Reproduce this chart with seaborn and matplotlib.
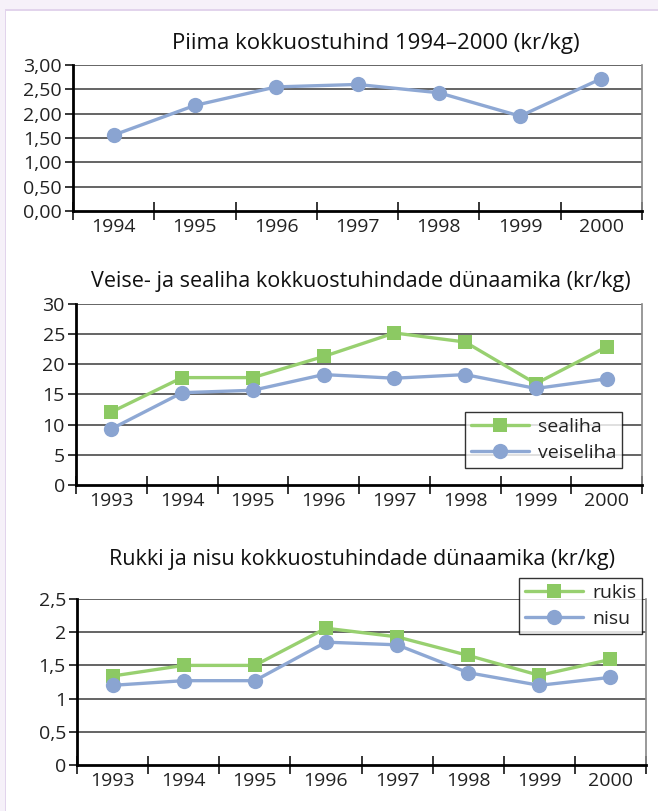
import matplotlib
matplotlib.use("Agg")
import matplotlib.pyplot as plt
import seaborn as sns
import pandas as pd
from matplotlib.patches import Rectangle
from matplotlib.ticker import FixedLocator, NullFormatter

# ---------------- data ----------------
milk_years = ["1994", "1995", "1996", "1997", "1998", "1999", "2000"]
milk_price = [1.56, 2.17, 2.55, 2.60, 2.43, 1.95, 2.72]

meat_years = ["1993", "1994", "1995", "1996", "1997", "1998", "1999", "2000"]
pork = [12.1, 17.8, 17.8, 21.3, 25.2, 23.7, 16.8, 22.9]
beef = [9.3, 15.3, 15.7, 18.3, 17.7, 18.3, 16.0, 17.6]

grain_years = ["1993", "1994", "1995", "1996", "1997", "1998", "1999", "2000"]
rye = [1.34, 1.50, 1.50, 2.06, 1.93, 1.65, 1.35, 1.59]
wheat = [1.20, 1.27, 1.27, 1.85, 1.81, 1.39, 1.20, 1.32]

titles = ["Piima kokkuostuhind 1994–2000 (kr/kg)",
          "Veise- ja sealiha kokkuostuhindade dünaamika (kr/kg)",
          "Rukki ja nisu kokkuostuhindade dünaamika (kr/kg)"]
milk_ticks = [0, 0.5, 1, 1.5, 2, 2.5, 3]
milk_ticklabels = ["0,00", "0,50", "1,00", "1,50", "2,00", "2,50", "3,00"]
meat_ticks = [0, 5, 10, 15, 20, 25, 30]
meat_ticklabels = ["0", "5", "10", "15", "20", "25", "30"]
grain_ticks = [0, 0.5, 1, 1.5, 2, 2.5]
grain_ticklabels = ["0", "0,5", "1", "1,5", "2", "2,5"]

GREEN = "#8cc963"
GREEN_LINE = "#98d070"
BLUE = "#8aa4d1"
BLUE_LINE = "#8ea8d4"

TITLE_FS = 15.5
TICK_FS = 14
LEG_FS = 14

sns.set_theme(style="white")
plt.rcParams["font.family"] = ["Open Sans", "DejaVu Sans"]

W, H = 658, 811
fig = plt.figure(figsize=(W / 100, H / 100), dpi=100)
fig.patch.set_facecolor("white")

# lavender page border
fig.add_artist(Rectangle((0, 0), 5 / W, 1, transform=fig.transFigure,
                         facecolor="#f6f1f9", edgecolor="none", zorder=0))
fig.add_artist(Rectangle((0, 1 - 9 / H), 1, 9 / H, transform=fig.transFigure,
                         facecolor="#f6f1f9", edgecolor="none", zorder=0))
fig.add_artist(Rectangle((4.5 / W, 0), 1.8 / W, 1 - 9 / H, transform=fig.transFigure,
                         facecolor="#e2d4ec", edgecolor="none", zorder=1))
fig.add_artist(Rectangle((4.5 / W, 1 - 11 / H), 1 - 4.5 / W, 2 / H, transform=fig.transFigure,
                         facecolor="#e2d4ec", edgecolor="none", zorder=1))


def make_ax(left, right, top, bottom):
    return fig.add_axes([left / W, 1 - bottom / H, (right - left) / W, (bottom - top) / H])


def style_ax(ax, cats, ticks, ticklabels, ymax):
    n = len(cats)
    ax.set_xlim(-0.5, n - 0.5)
    ax.set_ylim(0, ymax)
    ax.set_facecolor("none")
    ax.set_yticks(ticks)
    ax.set_yticklabels(ticklabels)
    for y in ticks[1:]:
        ax.axhline(y, color="#3a3a3a", lw=1.1, zorder=1)
    ax.xaxis.set_major_locator(FixedLocator([i - 0.5 for i in range(n + 1)]))
    ax.xaxis.set_major_formatter(NullFormatter())
    ax.xaxis.set_minor_locator(FixedLocator(list(range(n))))
    ax.set_xticklabels(cats, minor=True)
    ax.tick_params(axis="x", which="major", direction="inout", length=13, width=1.1,
                   color="black", bottom=True)
    ax.tick_params(axis="x", which="minor", length=0, pad=5, labelsize=TICK_FS,
                   labelcolor="#222222", bottom=True)
    ax.tick_params(axis="y", which="major", direction="out", length=6, width=1.1,
                   color="black", left=True, pad=2, labelsize=TICK_FS, labelcolor="#222222")
    for s in ["left", "bottom"]:
        ax.spines[s].set_color("black")
        ax.spines[s].set_linewidth(2)
        ax.spines[s].set_zorder(5)
    ax.spines["right"].set_color("#888888")
    ax.spines["right"].set_linewidth(1.2)
    ax.spines["top"].set_visible(False)
    ax.set_xlabel("")
    ax.set_ylabel("")
    ax.grid(False)


def draw_series(ax, cats, vals, name, color, lcolor, marker, ms):
    df = pd.DataFrame({"x": cats, "y": vals, "s": name})
    sns.lineplot(data=df, x="x", y="y", ax=ax, color=lcolor, lw=2.4, marker=marker,
                 markersize=ms, markerfacecolor=color, markeredgecolor=color,
                 markeredgewidth=0, sort=False, label=name, zorder=4, legend=False)


# ---- panel 1 ----
ax1 = make_ax(73, 642, 65, 211)
draw_series(ax1, milk_years, milk_price, "piim", BLUE, BLUE_LINE, "o", 11)
style_ax(ax1, milk_years, milk_ticks, milk_ticklabels, 3.0)
fig.text(376 / W, 1 - 44 / H, titles[0], ha="center", va="center", fontsize=16, color="#111111")

# ---- panel 2 ----
ax2 = make_ax(76, 642, 304, 485)
draw_series(ax2, meat_years, pork, "sealiha", GREEN, GREEN_LINE, "s", 10)
draw_series(ax2, meat_years, beef, "veiseliha", BLUE, BLUE_LINE, "o", 11)
style_ax(ax2, meat_years, meat_ticks, meat_ticklabels, 30)
fig.text(361 / W, 1 - 282 / H, titles[1], ha="center", va="center", fontsize=TITLE_FS, color="#111111")

# ---- panel 3 ----
ax3 = make_ax(77, 646, 599, 765)
draw_series(ax3, grain_years, rye, "rukis", GREEN, GREEN_LINE, "s", 10)
draw_series(ax3, grain_years, wheat, "nisu", BLUE, BLUE_LINE, "o", 11)
style_ax(ax3, grain_years, grain_ticks, grain_ticklabels, 2.5)
fig.text(362 / W, 1 - 559 / H, titles[2], ha="center", va="center", fontsize=TITLE_FS, color="#111111")


def add_legend(ax, x0, y0):
    h, l = ax.get_legend_handles_labels()
    leg = ax.legend(h, l, loc="upper left", bbox_to_anchor=(x0 / W, 1 - y0 / H),
                    bbox_transform=fig.transFigure, frameon=True, fancybox=False,
                    edgecolor="black", fontsize=LEG_FS, handlelength=3.0, handletextpad=0.45,
                    borderpad=0.3, labelspacing=0.42, borderaxespad=0)
    leg.get_frame().set_linewidth(1.0)
    leg.get_frame().set_facecolor("white")
    leg.set_zorder(10)
    for t in leg.get_texts():
        t.set_color("#222222")
    return leg


add_legend(ax2, 465, 412)
add_legend(ax3, 519, 578)

fig.savefig("out.png", dpi=100)
